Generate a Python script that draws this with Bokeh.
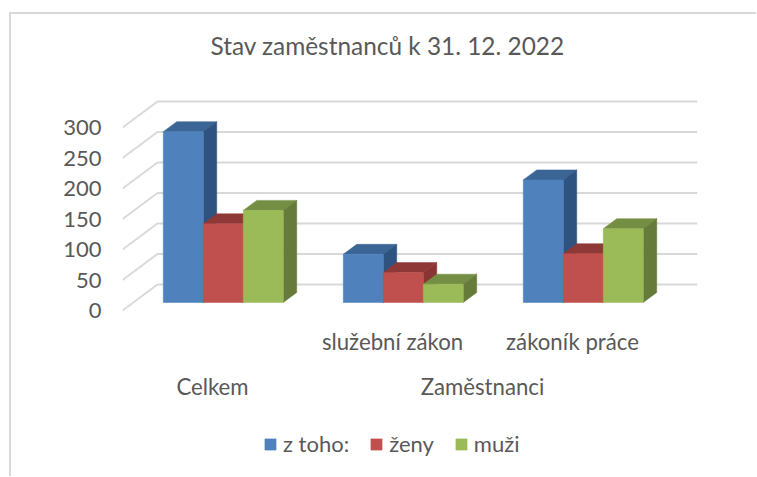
from bokeh.plotting import figure
from bokeh.embed import file_html
from bokeh.resources import INLINE
from bokeh.models import Range1d, LinearAxis, FixedTicker, Legend, LegendItem, Title

# ---- data ----
title_text = "Stav zaměstnanců k 31. 12. 2022"
categories = ["", "služební zákon", "zákoník práce"]
groups = ["Celkem", "Zaměstnanci"]
group_spans = [1, 2]
series_names = ["z toho:", "ženy", "muži"]
z_toho = [280, 79, 201]
zeny = [129, 49, 80]
muzi = [151, 30, 121]
y_ticks = [0, 50, 100, 150, 200, 250, 300]

# ---- styling ----
front = ["#4F81BD", "#C0504D", "#9BBB59"]
top_c = ["#3B6594", "#8E3937", "#748E43"]
side_c = ["#2F5380", "#8A3533", "#667B39"]
FONT = "Lato"
TXT = "#595959"
GRID = "#D9D9D9"

# ---- pseudo-3D projection in data units ----
PX_X, PX_Y = 180.0, 0.61            # pixels per category / per value unit
XMAX = 575 / PX_X
YMAX = 245 / PX_Y
YMIN = -167 / PX_Y                  # frame runs down to the page bottom to hold the legend
DX, DY = 35 / PX_X, 26 / PX_Y       # floor depth
F0, F1 = 8 / 26, 18 / 26            # where a bar starts and ends in the depth
BAR_W = 40 / PX_X
INSET = 30 / PX_X

p = figure(width=747, height=464, output_backend="svg", toolbar_location=None,
           x_range=Range1d(0, XMAX), y_range=Range1d(YMIN, YMAX),
           x_axis_location=None, y_axis_location=None,
           min_border_left=111, min_border_right=61, min_border_top=51, min_border_bottom=1,
           background_fill_color="white", border_fill_color="white",
           outline_line_color=None, margin=(12, 0, 0, 9),
           styles={"border-left": "2px solid #D9D9D9", "border-top": "2px solid #D9D9D9"})
p.grid.visible = False

p.title = Title(text=title_text, align="left", offset=88, standoff=12, text_font=FONT, text_font_size="24.4px",
                text_font_style="normal", text_color=TXT)

# gridlines: floor-wall diagonal then the back wall
p.multi_line([[0, DX, XMAX] for _ in y_ticks], [[v, v + DY, v + DY] for v in y_ticks],
             line_color=GRID, line_width=2)

# value axis
ya = LinearAxis(ticker=FixedTicker(ticks=y_ticks), axis_line_color=None, major_tick_line_color=None,
                minor_tick_line_color=None, major_label_standoff=15,
                major_label_text_font=FONT, major_label_text_font_size="22px",
                major_label_text_color=TXT)
p.add_layout(ya, "left")

# category axes
tick_pos = [i + 0.5 for i in range(len(categories))]
xa = LinearAxis(ticker=FixedTicker(ticks=tick_pos), fixed_location=0,
                major_label_overrides={t: c for t, c in zip(tick_pos, categories)},
                axis_line_color=None, major_tick_line_color=None, minor_tick_line_color=None,
                major_label_standoff=11, major_label_text_font=FONT, major_label_text_font_size="22.2px",
                major_label_text_color=TXT)
p.add_layout(xa, "below")
g_pos, s = [], 0
for n in group_spans:
    g_pos.append(s + n / 2)
    s += n
xb = LinearAxis(ticker=FixedTicker(ticks=g_pos), fixed_location=0,
                major_label_overrides={t: c for t, c in zip(g_pos, groups)},
                axis_line_color=None, major_tick_line_color=None, minor_tick_line_color=None,
                major_label_standoff=56, major_label_text_font=FONT, major_label_text_font_size="22.2px",
                major_label_text_color=TXT)
p.add_layout(xb, "below")

# bars
base = F0 * DY
ox0, ox1 = F0 * DX, F1 * DX
oy = (F1 - F0) * DY
legend_items = []
for si, vals in enumerate([z_toho, zeny, muzi]):
    left = [i + ox0 + INSET + si * BAR_W for i in range(len(vals))]
    right = [l + BAR_W for l in left]
    tops = [base + v for v in vals]
    depth_x = ox1 - ox0
    p.patches([[l, r, r + depth_x, l + depth_x] for l, r in zip(left, right)],
              [[t, t, t + oy, t + oy] for t in tops],
              fill_color=top_c[si], line_color=top_c[si], line_width=0.5)
    p.patches([[r, r + depth_x, r + depth_x, r] for r in right],
              [[base, base + oy, t + oy, t] for t in tops],
              fill_color=side_c[si], line_color=side_c[si], line_width=0.5)
    r = p.vbar(x=[(a + b) / 2 for a, b in zip(left, right)], width=BAR_W, bottom=base, top=tops,
               fill_color=front[si], line_color=front[si], line_width=0.5)
    legend_items.append(LegendItem(label=series_names[si], renderers=[r]))

leg = Legend(items=legend_items, orientation="horizontal", location=(141, 20),
             glyph_width=14, glyph_height=14, label_standoff=6, spacing=20, padding=0, margin=0,
             border_line_color=None, background_fill_alpha=0,
             label_text_font=FONT, label_text_font_size="22px", label_text_color=TXT)
p.add_layout(leg, "center")

open("out.html", "w").write(file_html(p, INLINE))
